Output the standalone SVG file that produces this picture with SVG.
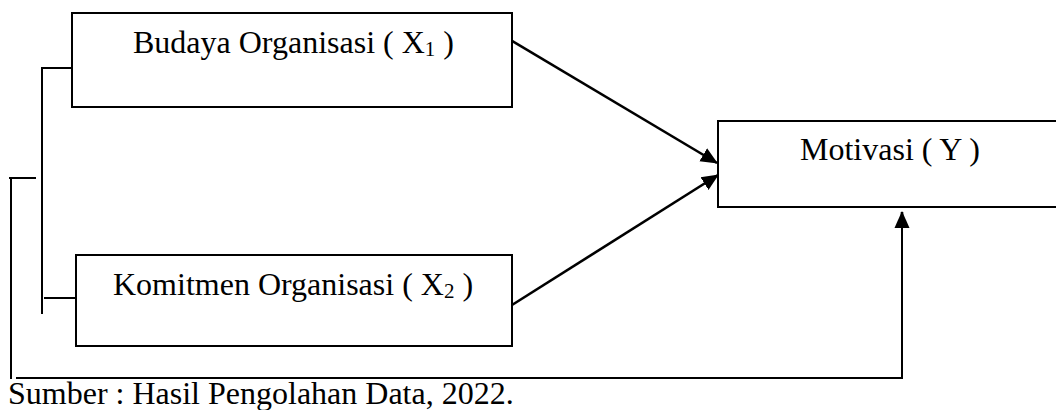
<svg xmlns="http://www.w3.org/2000/svg" width="1056" height="410" viewBox="0 0 1056 410">
<style>
.box{fill:#fff;stroke:#000;stroke-width:2}
.ln{fill:none;stroke:#000;stroke-width:2}
.ar{fill:none;stroke:#000;stroke-width:2.6}
text{font-family:"Liberation Serif","Times New Roman",serif;font-size:32px;fill:#000}
.sub{font-size:21px}
</style>
<defs>
<marker id="ahb" markerWidth="17" markerHeight="17" refX="16" refY="8.5" orient="auto" markerUnits="userSpaceOnUse" viewBox="0 0 17 17">
<path d="M0,1 L17,8.5 L0,16 z" fill="#000"/>
</marker>
</defs>
<rect width="1056" height="410" fill="#fff"/>
<g id="connectors">
<polyline class="ln" points="72,68 42,68 42,314"/>
<polyline class="ln" points="44,298 76,298"/>
<polyline class="ln" points="9,178 36,178"/>
<line class="ln" x1="11" y1="178" x2="11" y2="379"/>
<polyline class="ln" points="16,378 902,378 902,226"/>
<path class="ar" d="M902,228 L902,212" marker-end="url(#ahb)"/>
<line class="ar" x1="507" y1="38" x2="717" y2="163" marker-end="url(#ahb)"/>
<line class="ar" x1="512" y1="305" x2="718" y2="175" marker-end="url(#ahb)"/>
</g>
<g id="node-x1">
<rect class="box" x="72" y="13" width="440" height="94"/>
<text x="133" y="53">Budaya Organisasi ( X<tspan class="sub" dy="3">1</tspan><tspan dy="-3"> )</tspan></text>
</g>
<g id="node-x2">
<rect class="box" x="76" y="255" width="436" height="91"/>
<text x="113" y="295">Komitmen Organisasi ( X<tspan class="sub" dy="3">2</tspan><tspan dy="-3"> )</tspan></text>
</g>
<g id="node-y">
<rect class="box" x="718" y="121" width="345" height="86"/>
<text x="800" y="160">Motivasi ( Y )</text>
</g>
<g id="source">
<text x="8" y="404">Sumber : Hasil Pengolahan Data, 2022.</text>
</g>
</svg>
